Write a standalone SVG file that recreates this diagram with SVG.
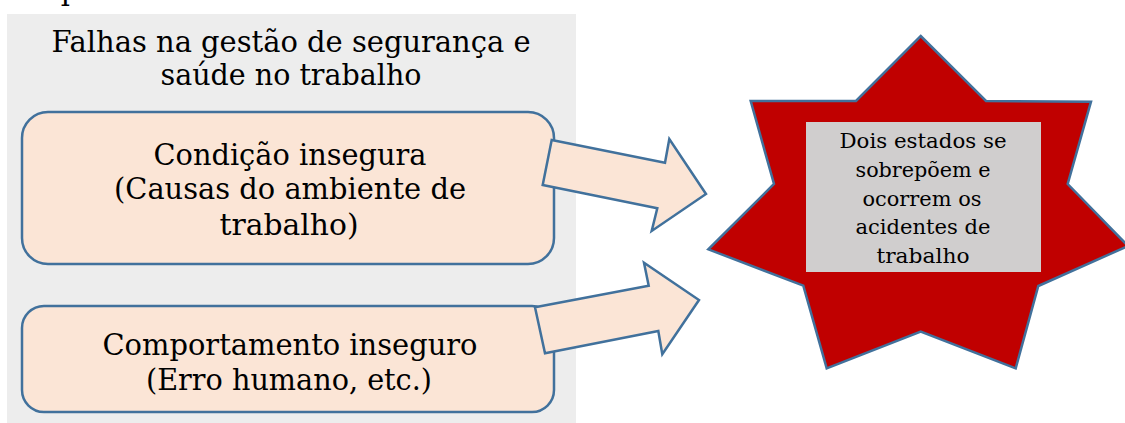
<svg xmlns="http://www.w3.org/2000/svg" width="1125" height="423" viewBox="0 0 1125 423">
<style>
.t{font-family:"DejaVu Serif","Liberation Serif",serif;fill:#000;text-anchor:middle}
.big{font-size:29px}
.small{font-size:20px}
.box{fill:#FBE5D6;stroke:#41719C;stroke-width:2.5}
.arrow{fill:#FBE5D6;stroke:#41719C;stroke-width:2.5;stroke-linejoin:miter}
</style>
<rect width="1125" height="423" fill="#fff"/>
<text class="t big" x="70" y="0">p</text>
<g id="panel">
<rect x="7" y="14" width="569" height="409" fill="#EDEDED"/>
<text class="t big" x="291" y="52" textLength="479" lengthAdjust="spacingAndGlyphs">Falhas na gestão de segurança e</text>
<text class="t big" x="291" y="85" textLength="261" lengthAdjust="spacingAndGlyphs">saúde no trabalho</text>
</g>
<g id="node-condicao">
<rect class="box" x="22" y="112" width="532" height="152" rx="26"/>
<text class="t big" x="290" y="165" textLength="273" lengthAdjust="spacingAndGlyphs">Condição insegura</text>
<text class="t big" x="290" y="199" textLength="352" lengthAdjust="spacingAndGlyphs">(Causas do ambiente de</text>
<text class="t big" x="289" y="235" textLength="139" lengthAdjust="spacingAndGlyphs">trabalho)</text>
</g>
<g id="node-comportamento">
<rect class="box" x="22" y="306" width="532" height="106" rx="22"/>
<text class="t big" x="290" y="355" textLength="375" lengthAdjust="spacingAndGlyphs">Comportamento inseguro</text>
<text class="t big" x="289" y="390" textLength="286" lengthAdjust="spacingAndGlyphs">(Erro humano, etc.)</text>
</g>
<g id="connectors">
<polygon class="arrow" points="551.7,140 665,162.7 669.3,139 706,194 651.7,231 657.3,208.3 542.7,185"/>
<polygon class="arrow" points="535,307.3 648.7,285.7 644,262.7 699,300 662.3,354.3 658.3,331 545,353.3"/>
</g>
<g id="node-acidente">
<polygon points="920.7,36 986,101 1091,101.7 1067.7,184 1128,246 1038.3,286 1015.7,368.3 920.7,331.7 826.7,368.3 803.3,285.7 708.3,249.3 774,184 750.7,101 856,101" fill="#C00000" stroke="#41719C" stroke-width="2.5" stroke-linejoin="miter"/>
<rect x="806" y="122" width="235" height="150" fill="#D0CECE"/>
<text class="t small" x="923" y="148" textLength="167" lengthAdjust="spacingAndGlyphs">Dois estados se</text>
<text class="t small" x="923" y="177" textLength="135" lengthAdjust="spacingAndGlyphs">sobrepõem e</text>
<text class="t small" x="922" y="206" textLength="119" lengthAdjust="spacingAndGlyphs">ocorrem os</text>
<text class="t small" x="923" y="234" textLength="135" lengthAdjust="spacingAndGlyphs">acidentes de</text>
<text class="t small" x="923" y="263" textLength="93" lengthAdjust="spacingAndGlyphs">trabalho</text>
</g>
</svg>
